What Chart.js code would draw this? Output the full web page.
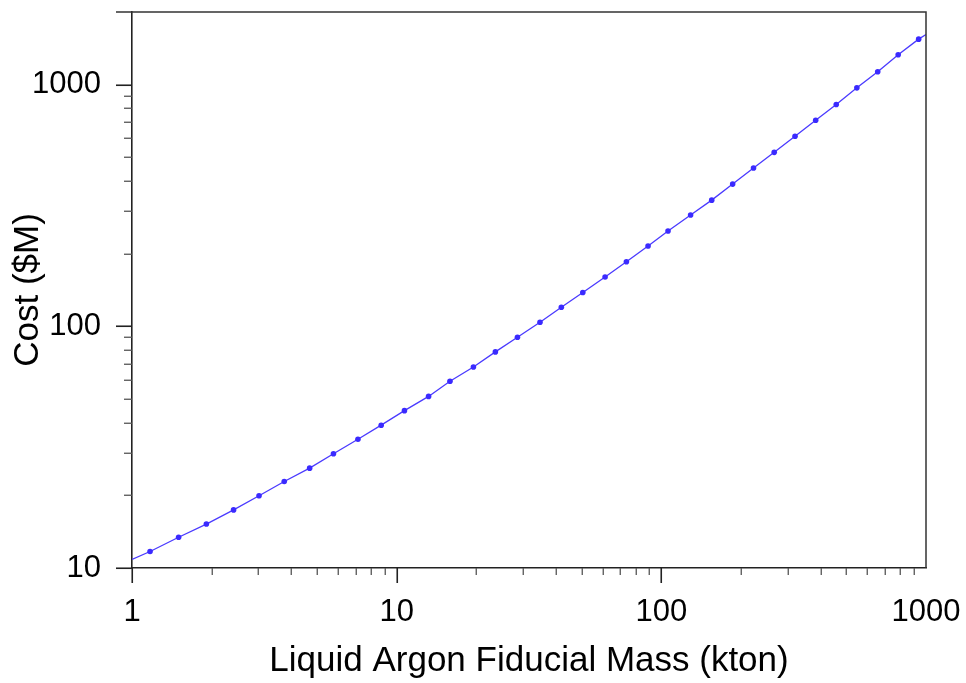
<!DOCTYPE html>
<html lang="en">
<head>
<meta charset="UTF-8">
<meta name="viewport" content="width=device-width, initial-scale=1.0">
<title>Cost vs Liquid Argon Fiducial Mass</title>
<script src="https://cdn.jsdelivr.net/npm/chart.js@4.4.0/dist/chart.umd.min.js"></script>
<style>
  html, body { margin: 0; padding: 0; background: #fff; }
  #wrap { width: 966px; height: 683px; position: relative; }
</style>
</head>
<body>
<div id="wrap"><canvas id="costChart"></canvas></div>
<script>
// values (kton, $M)
const massKton = [1.17, 1.50, 1.91, 2.42, 3.02, 3.76, 4.69, 5.77, 7.14, 8.74,
                  10.7, 13.2, 15.9, 19.5, 23.6, 28.6, 34.8, 41.9, 50.5, 61.3,
                  73.8, 89.1, 106, 129, 155, 186, 223, 267, 320, 383,
                  458, 548, 657, 785, 938];
const costM = [11.7, 13.4, 15.2, 17.4, 19.9, 22.8, 25.9, 29.7, 34.1, 39.0,
               44.8, 51.3, 59.3, 67.9, 78.4, 90.2, 104, 120, 138, 160,
               185, 215, 248, 289, 333, 388, 452, 525, 612, 713,
               828, 971, 1131, 1330, 1544];
// fitted curve: ends read at the axis edges, passes through the points
const fitMass = [1, ...massKton, 1000];
const fitCost = [10.86, ...costM, 1615];

const xLabels = [1, 10, 100, 1000];
const yLabels = [10, 100, 1000];
const xRange = [1, 1000];
const yRange = [10, 2000];

function decadeTicks(lo, hi) {
  const out = [];
  for (let d = lo; d < hi; d *= 10) {
    for (let m = 1; m <= 9; m++) {
      const v = m * d;
      if (v >= lo && v <= hi) out.push({ v, major: m === 1 });
    }
  }
  return out;
}

const blue = '#4a3aff';

const axisTicks = {
  id: 'axisTicks',
  afterDraw(chart) {
    const { ctx, chartArea: a, scales: { x, y } } = chart;
    ctx.save();
    ctx.lineCap = 'butt';
    // top and right frame
    ctx.strokeStyle = '#333';
    ctx.lineWidth = 1.5;
    ctx.beginPath();
    ctx.moveTo(a.left - 16, a.top);
    ctx.lineTo(a.right, a.top);
    ctx.lineTo(a.right, a.bottom);
    ctx.stroke();
    // x ticks below the axis
    decadeTicks(xRange[0], xRange[1]).forEach(t => {
      if (t.v >= xRange[1]) return;
      const px = Math.round(x.getPixelForValue(t.v)) + 0.25;
      ctx.strokeStyle = t.major ? '#222' : '#555';
      ctx.lineWidth = t.major ? 1.6 : 1.3;
      ctx.beginPath();
      ctx.moveTo(px, a.bottom);
      ctx.lineTo(px, a.bottom + (t.major ? 15 : 7));
      ctx.stroke();
    });
    // y ticks left of the axis
    decadeTicks(yRange[0], yRange[1]).forEach(t => {
      if (t.v >= yRange[1]) return;
      const py = Math.round(y.getPixelForValue(t.v)) + 0.25;
      ctx.strokeStyle = t.major ? '#222' : '#555';
      ctx.lineWidth = t.major ? 1.6 : 1.3;
      ctx.beginPath();
      ctx.moveTo(a.left, py);
      ctx.lineTo(a.left - (t.major ? 16 : 8), py);
      ctx.stroke();
    });
    ctx.restore();
  }
};

const fontFamily = '"Liberation Sans", Arial, Helvetica, sans-serif';

function noPad(s) {
  s.paddingTop = 0;
  s.paddingBottom = 0;
  s.paddingLeft = 0;
  s.paddingRight = 0;
}

new Chart(document.getElementById('costChart'), {
  type: 'scatter',
  data: {
    datasets: [
      {
        type: 'line',
        label: 'fit',
        data: fitMass.map((m, i) => ({ x: m, y: fitCost[i] })),
        borderColor: blue,
        borderWidth: 1.3,
        pointRadius: 0,
        tension: 0,
        fill: false,
        order: 2
      },
      {
        label: 'cost',
        data: massKton.map((m, i) => ({ x: m, y: costM[i] })),
        backgroundColor: '#3a2aff',
        borderWidth: 0,
        pointRadius: 2.8,
        order: 1
      }
    ]
  },
  options: {
    responsive: true,
    maintainAspectRatio: false,
    animation: false,
    layout: { padding: { top: 12, right: 40, bottom: 0, left: 0 } },
    plugins: { legend: { display: false }, tooltip: { enabled: false } },
    scales: {
      x: {
        type: 'logarithmic',
        position: 'bottom',
        min: xRange[0],
        max: xRange[1],
        afterBuildTicks: s => { s.ticks = xLabels.map(v => ({ value: v })); },
        afterFit: s => { s.height = 115; noPad(s); },
        grid: { display: true, drawOnChartArea: false, drawTicks: true, tickLength: 15, tickColor: 'rgba(0,0,0,0)' },
        border: { display: true, color: '#222', width: 1.6 },
        ticks: {
          autoSkip: false,
          maxRotation: 0,
          padding: 11,
          color: '#000',
          font: { family: fontFamily, size: 31 },
          callback: v => String(v)
        },
        title: {
          display: true,
          text: 'Liquid Argon Fiducial Mass (kton)',
          color: '#000',
          font: { family: fontFamily, size: 35, lineHeight: 1.2 },
          padding: { top: 0, bottom: 1 }
        }
      },
      y: {
        type: 'logarithmic',
        position: 'left',
        min: yRange[0],
        max: yRange[1],
        afterBuildTicks: s => { s.ticks = yLabels.map(v => ({ value: v })); },
        afterFit: s => { s.width = 132; noPad(s); },
        grid: { display: true, drawOnChartArea: false, drawTicks: true, tickLength: 16, tickColor: 'rgba(0,0,0,0)' },
        border: { display: true, color: '#222', width: 1.6 },
        ticks: {
          autoSkip: false,
          padding: 15,
          color: '#000',
          font: { family: fontFamily, size: 31 },
          callback: v => String(v)
        },
        title: {
          display: true,
          text: 'Cost ($M)',
          color: '#000',
          font: { family: fontFamily, size: 35, lineHeight: 1.2 },
          padding: { top: 7, bottom: 0 }
        }
      }
    }
  },
  plugins: [axisTicks]
});
</script>
</body>
</html>
